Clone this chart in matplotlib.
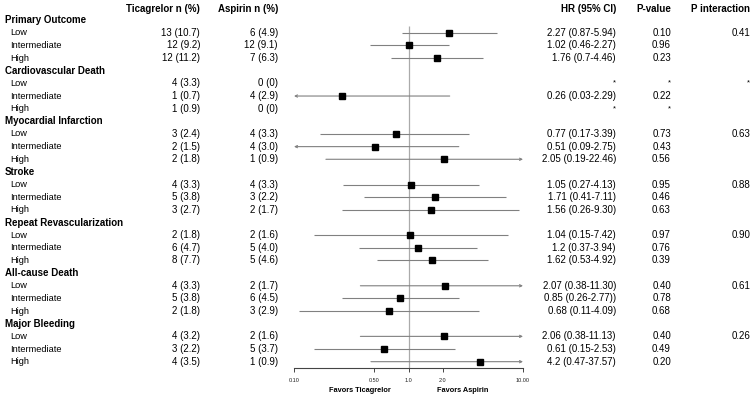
import numpy as np
import matplotlib
matplotlib.use("Agg")
import matplotlib.pyplot as plt
from matplotlib.transforms import blended_transform_factory

plt.rcParams['font.family'] = ['Liberation Sans', 'DejaVu Sans']

# data
outcomes = ["Primary Outcome", "Cardiovascular Death", "Myocardial Infarction", "Stroke",
            "Repeat Revascularization", "All-cause Death", "Major Bleeding"]
subgroups = ["Low", "Intermediate", "High"]

tica = [["13 (10.7)", "12 (9.2)", "12 (11.2)"],
        ["4 (3.3)", "1 (0.7)", "1 (0.9)"],
        ["3 (2.4)", "2 (1.5)", "2 (1.8)"],
        ["4 (3.3)", "5 (3.8)", "3 (2.7)"],
        ["2 (1.8)", "6 (4.7)", "8 (7.7)"],
        ["4 (3.3)", "5 (3.8)", "2 (1.8)"],
        ["4 (3.2)", "3 (2.2)", "4 (3.5)"]]
aspi = [["6 (4.9)", "12 (9.1)", "7 (6.3)"],
        ["0 (0)", "4 (2.9)", "0 (0)"],
        ["4 (3.3)", "4 (3.0)", "1 (0.9)"],
        ["4 (3.3)", "3 (2.2)", "2 (1.7)"],
        ["2 (1.6)", "5 (4.0)", "5 (4.6)"],
        ["2 (1.7)", "6 (4.5)", "3 (2.9)"],
        ["2 (1.6)", "5 (3.7)", "1 (0.9)"]]

hr = [[2.27, 1.02, 1.76],
      [None, 0.26, None],
      [0.77, 0.51, 2.05],
      [1.05, 1.71, 1.56],
      [1.04, 1.2, 1.62],
      [2.07, 0.85, 0.68],
      [2.06, 0.61, 4.2]]
lo = [[0.87, 0.46, 0.7],
      [None, 0.03, None],
      [0.17, 0.09, 0.19],
      [0.27, 0.41, 0.26],
      [0.15, 0.37, 0.53],
      [0.38, 0.26, 0.11],
      [0.38, 0.15, 0.47]]
hi = [[5.94, 2.27, 4.46],
      [None, 2.29, None],
      [3.39, 2.75, 22.46],
      [4.13, 7.11, 9.30],
      [7.42, 3.94, 4.92],
      [11.30, 2.77, 4.09],
      [11.13, 2.53, 37.57]]
hr_text = [["2.27 (0.87-5.94)", "1.02 (0.46-2.27)", "1.76 (0.7-4.46)"],
           ["*", "0.26 (0.03-2.29)", "*"],
           ["0.77 (0.17-3.39)", "0.51 (0.09-2.75)", "2.05 (0.19-22.46)"],
           ["1.05 (0.27-4.13)", "1.71 (0.41-7.11)", "1.56 (0.26-9.30)"],
           ["1.04 (0.15-7.42)", "1.2 (0.37-3.94)", "1.62 (0.53-4.92)"],
           ["2.07 (0.38-11.30)", "0.85 (0.26-2.77))", "0.68 (0.11-4.09)"],
           ["2.06 (0.38-11.13)", "0.61 (0.15-2.53)", "4.2 (0.47-37.57)"]]
pval = [["0.10", "0.96", "0.23"],
        ["*", "0.22", "*"],
        ["0.73", "0.43", "0.56"],
        ["0.95", "0.46", "0.63"],
        ["0.97", "0.76", "0.39"],
        ["0.40", "0.78", "0.68"],
        ["0.40", "0.49", "0.20"]]
p_inter = ["0.41", "*", "0.63", "0.88", "0.90", "0.61", "0.26"]

xticks = [0.1, 0.5, 1.0, 2.0, 10.0]
xticklabels = ["0.10", "0.50", "1.0", "2.0", "10.00"]

W, H = 754, 399
fig = plt.figure(figsize=(W / 100, H / 100), dpi=100)

row_h = 12.65
ax_bottom_px = 368
n_rows = 28
ax = fig.add_axes([294 / W, 1 - ax_bottom_px / H, (523 - 294) / W, (n_rows + 1) * row_h / H])
ax.set_xscale("log")
ax.set_xlim(0.1, 10)
ax.set_ylim(n_rows + 0.5, -0.5)
for s in ["top", "right", "left"]:
    ax.spines[s].set_visible(False)
ax.spines["bottom"].set_color("#444444")
ax.spines["bottom"].set_linewidth(0.8)
ax.set_yticks([])
ax.set_xticks(xticks)
ax.set_xticklabels(xticklabels, fontsize=4)
ax.minorticks_off()
ax.tick_params(axis="x", length=3, width=0.7, color="#444444", pad=4, labelcolor="#222222")
ax.patch.set_alpha(0)

ax.vlines(1.0, 1.5, n_rows + 0.5, color="#aaaaaa", lw=0.9, zorder=1)

tr = blended_transform_factory(fig.transFigure, ax.transData)

def fx(px):
    return px / W

fs = 7
gray = "#808080"
star_fs = 5.5

fig.text(fx(200), 1 - 9 / H, "Ticagrelor n (%)", ha="right", va="center", fontsize=fs, fontweight="bold")
fig.text(fx(278), 1 - 9 / H, "Aspirin n (%)", ha="right", va="center", fontsize=fs, fontweight="bold")
fig.text(fx(616), 1 - 9 / H, "HR (95% CI)", ha="right", va="center", fontsize=fs, fontweight="bold")
fig.text(fx(671), 1 - 9 / H, "P-value", ha="right", va="center", fontsize=fs, fontweight="bold")
fig.text(fx(750), 1 - 9 / H, "P interaction", ha="right", va="center", fontsize=fs, fontweight="bold")

row = 1
for i, name in enumerate(outcomes):
    ax.text(fx(5), row, name, transform=tr, ha="left", va="center", fontsize=fs, fontweight="bold")
    row += 1
    for j, sg in enumerate(subgroups):
        ax.text(fx(10), row, sg, transform=tr, ha="left", va="center", fontsize=6.7)
        ax.text(fx(200), row, tica[i][j], transform=tr, ha="right", va="center", fontsize=fs)
        ax.text(fx(278), row, aspi[i][j], transform=tr, ha="right", va="center", fontsize=fs)
        ht = hr_text[i][j]
        ax.text(fx(616), row, ht, transform=tr, ha="right", va="center",
                fontsize=star_fs if ht == "*" else fs)
        pv = pval[i][j]
        ax.text(fx(671), row, pv, transform=tr, ha="right", va="center",
                fontsize=star_fs if pv == "*" else fs)
        if j == 0:
            pi = p_inter[i]
            ax.text(fx(750), row, pi, transform=tr, ha="right", va="center",
                    fontsize=star_fs if pi == "*" else fs)
        if hr[i][j] is not None:
            l, h = lo[i][j], hi[i][j]
            lc, hc = max(l, 0.1), min(h, 10)
            if l < 0.1:
                ax.annotate("", xy=(0.1, row), xytext=(hc, row),
                            arrowprops=dict(arrowstyle="->", color=gray, lw=0.8, mutation_scale=4,
                                            shrinkA=0, shrinkB=0), annotation_clip=False)
            elif h > 10:
                ax.annotate("", xy=(10, row), xytext=(lc, row),
                            arrowprops=dict(arrowstyle="->", color=gray, lw=0.8, mutation_scale=4,
                                            shrinkA=0, shrinkB=0), annotation_clip=False)
            else:
                ax.hlines(row, lc, hc, color=gray, lw=0.8)
            ax.plot(hr[i][j], row, marker="s", color="black", markersize=4.3, zorder=3)
        row += 1

fig.text(fx(360), 1 - 391 / H, "Favors Ticagrelor", ha="center", va="center", fontsize=5.3, fontweight="bold")
fig.text(fx(463), 1 - 391 / H, "Favors Aspirin", ha="center", va="center", fontsize=5.3, fontweight="bold")

fig.savefig("out.png", dpi=100)
